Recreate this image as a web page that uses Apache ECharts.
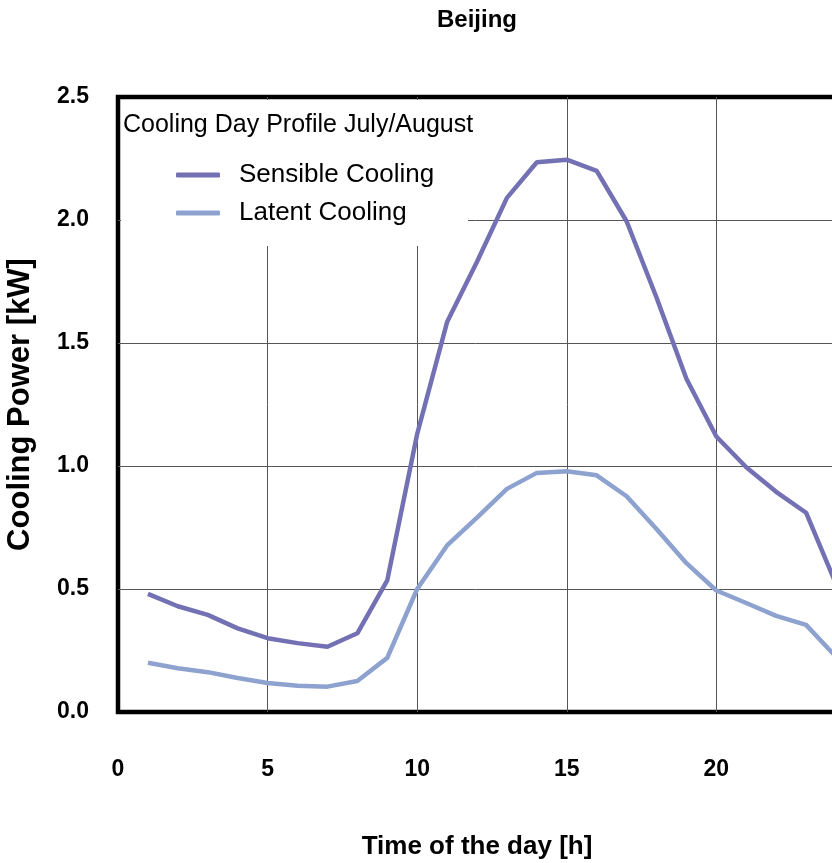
<!DOCTYPE html>
<html lang="en">
<head>
    <meta charset="UTF-8">
    <title>Beijing</title>
    <script src="https://cdn.jsdelivr.net/npm/echarts@6/dist/echarts.min.js"></script>
    <style>
        html, body { margin: 0; padding: 0; background: #fff; overflow: hidden; }
    </style>
</head>
<body>

    <div id="main" style="width:832px; height:863px;"></div>

    <script>
        // hour of the day
        var hours = [1, 2, 3, 4, 5, 6, 7, 8, 9, 10, 11, 12, 13, 14, 15, 16, 17, 18, 19, 20, 21, 22, 23, 24];
        // cooling power [kW]
        var sensible = [0.48, 0.43, 0.395, 0.34, 0.30, 0.28, 0.265, 0.32, 0.535, 1.13, 1.585, 1.83,
                        2.09, 2.235, 2.245, 2.20, 1.995, 1.685, 1.355, 1.12, 0.995, 0.895, 0.81, 0.52];
        var latent = [0.20, 0.178, 0.162, 0.138, 0.118, 0.107, 0.103, 0.126, 0.22, 0.50, 0.677, 0.79,
                      0.907, 0.972, 0.979, 0.962, 0.877, 0.744, 0.605, 0.494, 0.443, 0.391, 0.354, 0.225];
        var seriesNames = ['Sensible Cooling', 'Latent Cooling'];

        var font = '"Liberation Sans", Arial, Helvetica, sans-serif';

        function pairs(ys) {
            return hours.map(function (h, i) { return [h, ys[i]]; });
        }

        var charts = echarts.init(document.getElementById("main"));

        var options = {
            animation: false,
            title: {
                text: 'Beijing',
                left: 432,
                top: 3,
                textStyle: { fontFamily: font, fontWeight: 'bold', fontSize: 24, color: '#000' }
            },
            grid: {
                left: 118,
                right: -4,
                top: 97,
                bottom: 151,
                outerBoundsMode: 'none',
                show: true,
                borderColor: '#000',
                borderWidth: 4.5
            },
            legend: {
                orient: 'vertical',
                left: 171,
                top: 155,
                itemWidth: 44,
                itemHeight: 5,
                itemGap: 8,
                icon: 'roundRect',
                data: seriesNames,
                textStyle: {
                    fontFamily: font, fontSize: 26, color: '#000',
                    lineHeight: 30, padding: [0, 0, 0, 14]
                }
            },
            xAxis: {
                type: 'value',
                min: 0,
                max: 24,
                interval: 5,
                name: 'Time of the day [h]',
                nameLocation: 'middle',
                nameGap: 122,
                nameTextStyle: { fontFamily: font, fontWeight: 'bold', fontSize: 26, color: '#000' },
                axisLine: { show: false },
                axisTick: { show: false },
                axisLabel: {
                    margin: 46,
                    showMaxLabel: false,
                    fontFamily: font, fontWeight: 'bold', fontSize: 23, color: '#000'
                },
                splitLine: {
                    showMinLine: false,
                    showMaxLine: false,
                    lineStyle: { color: '#555', width: 1 }
                }
            },
            yAxis: {
                type: 'value',
                min: 0,
                max: 2.5,
                interval: 0.5,
                name: 'Cooling Power [kW]',
                nameLocation: 'middle',
                nameRotate: 90,
                nameGap: 82,
                nameTextStyle: { fontFamily: font, fontWeight: 'bold', fontSize: 31, color: '#000' },
                axisLine: { show: false },
                axisTick: { show: false },
                axisLabel: {
                    margin: 29,
                    formatter: function (v) { return v.toFixed(1); },
                    fontFamily: font, fontWeight: 'bold', fontSize: 23, color: '#000'
                },
                splitLine: {
                    showMinLine: false,
                    showMaxLine: false,
                    lineStyle: { color: '#555', width: 1 }
                }
            },
            graphic: [
                {
                    // the legend box hides the grid behind it
                    type: 'rect',
                    z: 1,
                    shape: { x: 121, y: 100, width: 347, height: 146 },
                    style: { fill: '#fff' }
                },
                {
                    type: 'text',
                    z: 5,
                    x: 123,
                    y: 125,
                    style: {
                        text: 'Cooling Day Profile July/August',
                        fontFamily: font,
                        fontSize: 25,
                        fill: '#000',
                        verticalAlign: 'middle'
                    }
                }
            ],
            series: [
                {
                    name: seriesNames[0],
                    type: 'line',
                    showSymbol: false,
                    symbol: 'none',
                    data: pairs(sensible),
                    lineStyle: { color: '#7470b4', width: 4.5 },
                    itemStyle: { color: '#7470b4' }
                },
                {
                    name: seriesNames[1],
                    type: 'line',
                    showSymbol: false,
                    symbol: 'none',
                    data: pairs(latent),
                    lineStyle: { color: '#8ea2cf', width: 4.5 },
                    itemStyle: { color: '#8ea2cf' }
                }
            ]
        };

        charts.setOption(options);
    </script>
</body>
</html>
